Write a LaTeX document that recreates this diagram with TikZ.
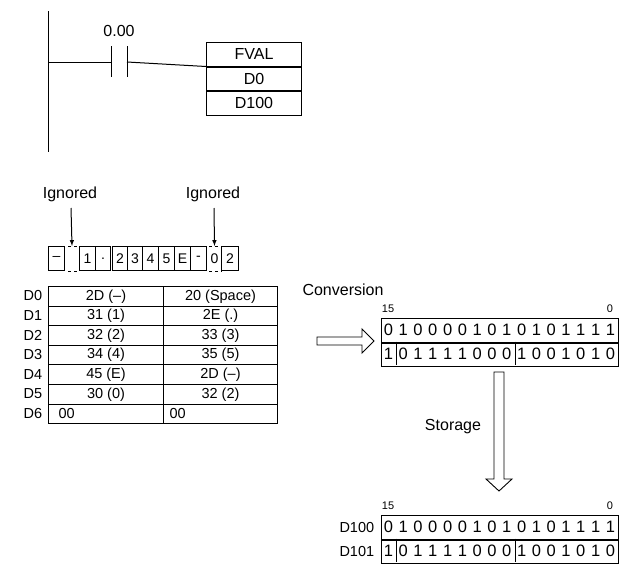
\documentclass[tikz,border=0pt]{standalone}
\usepackage{fontspec}
\setmainfont{Liberation Sans}
\begin{document}
\begin{tikzpicture}[x=1pt,y=-1pt,line width=1pt,
  lad/.style={font=\fontsize{16}{16}\selectfont},
  tab/.style={font=\fontsize{14.5}{14.5}\selectfont},
  cel/.style={font=\fontsize{14}{14}\selectfont},
  bit/.style={font=\fontsize{16.5}{16.5}\selectfont},
  sml/.style={font=\fontsize{11}{11}\selectfont},
  lbl/.style={font=\fontsize{16}{16}\selectfont},
  hollow/.style={line width=0.9pt,fill=white}]
\useasboundingbox (0,0) rectangle (620,568);
% ladder
\draw (48,11) -- (48,152);
\coordinate (cl) at (111,62);
\coordinate (cr) at (127,62);
\node[draw,minimum width=95,minimum height=23.5,anchor=north west,inner sep=0,lad] (f1) at (206,42) {FVAL};
\node[draw,minimum width=95,minimum height=23.5,anchor=north,inner sep=0,lad] (f2) at (f1.south) {D0};
\node[draw,minimum width=95,minimum height=23.5,anchor=north,inner sep=0,lad] (f3) at (f2.south) {D100};
\draw (48,62) -- (cl); \draw (cr) -- (f1.south west);
\draw (111,46) -- (111,77); \draw (127,46) -- (127,77);
\node[lad] (addr) at (119,31) {0.00};
% string cells
\foreach \a/\b/\t/\n in {48/64/{--}/c0,79/95/1/c1,95/110/./c2,112/127/2/c3,127/142/3/c4,142/158/4/c5,158/174/5/c6,174/190/E/c7,190/206/-/c8,221/238/2/c10}
  \node[draw,cel,inner sep=0,minimum width=\b-\a,minimum height=24,anchor=north west] (\n) at (\a,246) {\t};
\node[cel,inner sep=0,minimum width=14,minimum height=24,anchor=north west] (c9) at (207,246) {0};
\node[inner sep=0,minimum width=11,minimum height=24,anchor=north west] (g) at (66,246) {};
\foreach \n in {g,c9}{
  \draw[line width=0.9pt,dash pattern=on 3pt off 3pt] ([xshift=2]\n.north west) -- (\n.north east);
  \draw[line width=0.9pt,dash pattern=on 3pt off 3pt] ([xshift=2]\n.south west) -- (\n.south east);}
\node[lbl] (i1) at (70,194) {Ignored};
\node[lbl] (i2) at (213,194) {Ignored};
\draw[-latex] (71,208) -- (g.north);
\draw[-latex] (214,208) -- (c9.north);
% table
\foreach \r/\l/\rr in {0/{2D (--)}/{20 (Space)},1/{31 (1)}/{2E (.)},2/{32 (2)}/{33 (3)},3/{34 (4)}/{35 (5)},4/{45 (E)}/{2D (--)},5/{30 (0)}/{32 (2)}}{
  \node[draw,tab,inner sep=0,minimum width=115,minimum height=19.6,anchor=north west] (tl\r) at (48,286+19.6*\r) {\l};
  \node[draw,tab,inner sep=0,minimum width=114,minimum height=19.6,anchor=north west] (tr\r) at (163,286+19.6*\r) {\rr};
  \node[tab,anchor=east] (d\r) at (46,296+19.6*\r) {D\r};}
\node[draw,tab,inner sep=0,minimum width=115,minimum height=19.6,anchor=north west,text width=95] (tl6) at (48,403.6) {00};
\node[draw,tab,inner sep=0,minimum width=114,minimum height=19.6,anchor=north west,text width=102] (tr6) at (163,403.6) {00};
\node[tab,anchor=east] (d6) at (46,413.4) {D6};
% conversion
\node[lbl] (conv) at (343,290) {Conversion};
\draw[hollow] (317,337) -- (362,337) -- (362,329) -- (374,341) -- (362,353) -- (362,345) -- (317,345) -- cycle;
\foreach \y/\s in {318/u,515/l}{
  \node[draw,minimum width=237,minimum height=23.5,anchor=north west,inner sep=0] (\s1) at (381,\y) {};
  \node[draw,minimum width=237,minimum height=23.5,anchor=north,inner sep=0] (\s2) at (\s1.south) {};
  \draw (396,\y+23.5) -- (396,\y+47); \draw (515,\y+23.5) -- (515,\y+47);
  \node[sml] (\s15) at (388,\y-9) {15};
  \node[sml] (\s0) at (610,\y-9) {0};
  \foreach \d [count=\i from 0] in {0,1,0,0,0,0,1,0,1,0,1,0,1,1,1,1}
    \node[bit,inner sep=0] at (388.4+14.8*\i,\y+12) {\d};
  \foreach \d [count=\i from 0] in {1,0,1,1,1,1,0,0,0,1,0,0,1,0,1,0}
    \node[bit,inner sep=0] at (388.4+14.8*\i,\y+35.5) {\d};
}
\node[tab,anchor=east] (dd0) at (378,527) {D100};
\node[tab,anchor=east] (dd1) at (378,551) {D101};
\draw[hollow] (494,372) -- (504,372) -- (504,479) -- (512,479) -- (499,491) -- (486,479) -- (494,479) -- cycle;
\node[lbl] (stor) at (453,427) {Storage};
\end{tikzpicture}
\end{document}
